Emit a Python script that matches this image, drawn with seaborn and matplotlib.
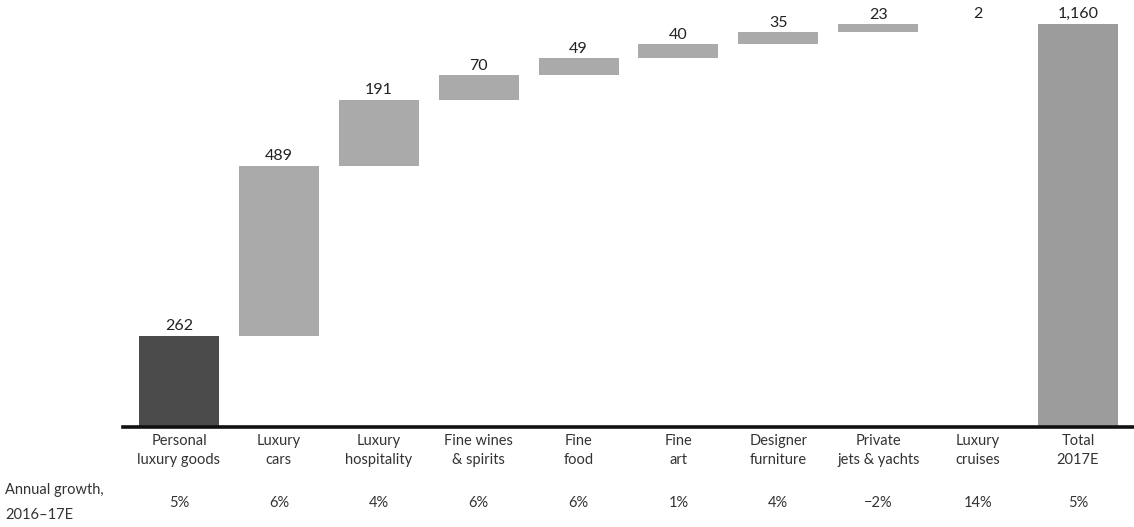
import numpy as np
import pandas as pd
import matplotlib
matplotlib.use("Agg")
import matplotlib.pyplot as plt
import seaborn as sns

categories = ["Personal\nluxury goods", "Luxury\ncars", "Luxury\nhospitality",
              "Fine wines\n& spirits", "Fine\nfood", "Fine\nart", "Designer\nfurniture",
              "Private\njets & yachts", "Luxury\ncruises", "Total\n2017E"]
values = [262, 489, 191, 70, 49, 40, 35, 23, 2, 1160]
value_labels = ["262", "489", "191", "70", "49", "40", "35", "23", "2", "1,160"]
growth = ["5%", "6%", "4%", "6%", "6%", "1%", "4%", "\u22122%", "14%", "5%"]
colors = ["#4b4b4b", "#aaaaaa", "#aaaaaa", "#aaaaaa", "#aaaaaa", "#aaaaaa",
          "#aaaaaa", "#aaaaaa", "#e4e4e4", "#9c9c9c"]

# waterfall bases: each step starts at the running total of the steps before it;
# the first segment and the total start from zero
bases = [0] + list(np.cumsum(values[:-2])) + [0]

df = pd.DataFrame({"category": categories, "value": values, "base": bases})

sns.set_theme(style="white")
plt.rcParams["font.family"] = ["Lato", "DejaVu Sans"]

fig = plt.figure(figsize=(11.34, 5.27), dpi=100)
ax = fig.add_axes([123 / 1134, 100 / 527, 1011 / 1134, 427 / 527])

sns.barplot(data=df, x="category", y="value", color=colors[1], width=0.8,
            bottom=df["base"].to_numpy(), saturation=1, linewidth=0, ax=ax)
for patch, c in zip(ax.patches, colors):
    patch.set_facecolor(c)

for i, (b, v, lab) in enumerate(zip(bases, values, value_labels)):
    ax.text(i, b + v + 8, lab, ha="center", va="bottom", fontsize=11.5, color="#222222")

ax.set_xlim(-0.56, 9.56)
ax.set_ylim(0, 1229)
ax.set_xlabel("")
ax.set_ylabel("")
ax.set_yticks([])
ax.set_xticks(range(len(categories)))
ax.set_xticklabels(categories, fontsize=10.5, color="#333333", linespacing=1.45)
ax.tick_params(axis="x", length=0, pad=5)
for s in ["top", "right", "left"]:
    ax.spines[s].set_visible(False)
ax.spines["bottom"].set_linewidth(2.6)
ax.spines["bottom"].set_color("#111111")

# annual growth row
for i, g in enumerate(growth):
    ax.text(i, -76 / 0.3474, g, ha="center", va="center", fontsize=10.5, color="#333333")
fig.text(5 / 1134, 1 - 490 / 527, "Annual growth,", ha="left", va="center",
         fontsize=10.5, color="#333333")
fig.text(5 / 1134, 1 - 515 / 527, "2016\u201317E", ha="left", va="center",
         fontsize=10.5, color="#333333")

fig.savefig("out.png", dpi=100)
